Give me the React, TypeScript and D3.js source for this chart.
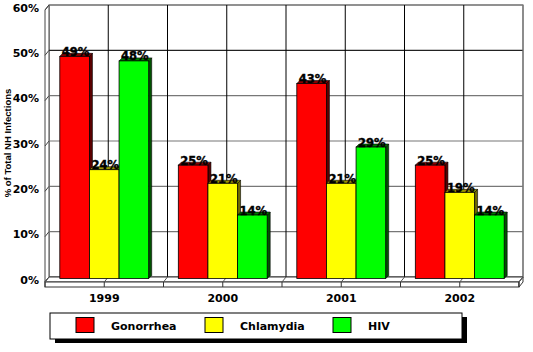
import React from 'react';
import * as d3 from 'd3';

const years = ['1999', '2000', '2001', '2002'];
const seriesNames = ['Gonorrhea', 'Chlamydia', 'HIV'];
const gonorrhea = [49, 25, 43, 25];
const chlamydia = [24, 21, 21, 19];
const hiv = [48, 14, 29, 14];
const yTicks = [0, 10, 20, 30, 40, 50, 60];

const fills = ['#ff0000', '#ffff00', '#00ff00'];
const sides = ['#5a0000', '#6e6a00', '#005200'];
const tops = ['#8a0000', '#9a9400', '#007800'];

const W = 533;
const H = 352;
// depth of the wall/floor and of the bars
const DX = 4, DY = -5;
const BDX = 3, BDY = -3;

const App = () => {
  const values = [gonorrhea, chlamydia, hiv];

  const x = d3.scaleBand<string>().domain(years).range([45, 519]).paddingInner(0).paddingOuter(0);
  const sub = d3.scaleBand<string>().domain(seriesNames).range([0, x.bandwidth()]).paddingInner(0).paddingOuter(0.5);
  const yWall = d3.scaleLinear().domain([0, 60]).range([277, 5]);
  const yBar = d3.scaleLinear().domain([0, 60]).range([278.5, 6.5]);

  const bw = x.bandwidth();
  const halfSteps = d3.range(0, years.length * 2 + 1).map(i => 45 + (i * bw) / 2);

  const font = '"DejaVu Sans", Verdana, sans-serif';

  return (
    <svg width={W} height={H} style={{ position: 'absolute', left: 0, top: 0, background: '#fff' }}>
      {/* back wall */}
      <rect x={49} y={5} width={474} height={272} fill="#fff" stroke="#777" strokeWidth={1.2} />
      {/* left side wall */}
      <polygon points={`45,${yWall(60) - DY} 49,${yWall(60)} 49,${yWall(0)} 45,${yWall(0) - DY}`} fill="#fff" stroke="#444" strokeWidth={1} />

      {yTicks.map(t => (
        <g key={t}>
          <line x1={49} x2={523} y1={yWall(t)} y2={yWall(t)} stroke={t === 50 ? '#222' : '#777'} strokeWidth={1.2} />
          <line x1={45} x2={49} y1={yWall(t) - DY} y2={yWall(t)} stroke="#444" />
          <text x={39} y={yWall(t) - DY / 2 + 4} textAnchor="end" fontFamily={font} fontWeight="bold" fontSize={11}>
            {t}%
          </text>
        </g>
      ))}

      {halfSteps.slice(1, -1).map((hx, i) => (
        <line key={i} x1={hx + DX} x2={hx + DX} y1={yWall(60)} y2={yWall(0)} stroke="#000" strokeWidth={1} />
      ))}
      <line x1={523} x2={523} y1={yWall(60)} y2={yWall(0)} stroke="#777" strokeWidth={1.2} />

      {/* floor */}
      <polygon points={`45,282 49,277 523,277 519,282`} fill="#fff" stroke="#333" strokeWidth={1} />
      <rect x={45} y={282} width={474} height={5} fill="#fff" stroke="#333" strokeWidth={1} />
      <polygon points={`519,282 523,277 523,282 519,287`} fill="#fff" stroke="#333" strokeWidth={1} />
      {halfSteps.map((hx, i) => (
        <g key={i}>
          <line x1={hx} x2={hx + DX} y1={282} y2={277} stroke="#555" />
          <line x1={hx} x2={hx} y1={282} y2={287} stroke="#333" />
        </g>
      ))}

      {/* bars */}
      {years.map((yr, yi) => (
        <g key={yr}>
          {seriesNames.map((s, si) => {
            const v = values[si][yi];
            const bx = (x(yr) ?? 0) + (sub(s) ?? 0);
            const w = sub.bandwidth();
            const top = yBar(v);
            const base = yBar(0);
            return (
              <g key={s}>
                <polygon
                  points={`${bx + w},${top} ${bx + w + BDX},${top + BDY} ${bx + w + BDX},${base + BDY} ${bx + w},${base}`}
                  fill={sides[si]} stroke="#000" strokeWidth={0.6}
                />
                <polygon
                  points={`${bx},${top} ${bx + BDX},${top + BDY} ${bx + w + BDX},${top + BDY} ${bx + w},${top}`}
                  fill={tops[si]} stroke="#000" strokeWidth={0.6}
                />
                <rect x={bx} y={top} width={w} height={base - top} fill={fills[si]} stroke="#000" strokeWidth={0.8} />
              </g>
            );
          })}
        </g>
      ))}

      {/* value labels */}
      {years.map((yr, yi) =>
        seriesNames.map((s, si) => {
          const v = values[si][yi];
          const cx = (x(yr) ?? 0) + (sub(s) ?? 0) + sub.bandwidth() / 2 + 1;
          return (
            <text key={yr + s} x={cx} y={yBar(v) - 0.5} textAnchor="middle" fontFamily={font} fontWeight="bold"
              fontSize={11.5} stroke="#000" strokeWidth={0.4} fill="#000">
              {v}%
            </text>
          );
        })
      )}

      {/* category labels */}
      {years.map(yr => (
        <text key={yr} x={(x(yr) ?? 0) + bw / 2} y={302} textAnchor="middle" fontFamily={font} fontWeight="bold" fontSize={11}>
          {yr}
        </text>
      ))}

      {/* y title */}
      <text transform="translate(11,143) rotate(-90)" textAnchor="middle" fontFamily='"Liberation Sans", Arial, sans-serif'
        fontWeight="bold" fontSize={9.5}>
        % of Total NH Infections
      </text>

      {/* legend */}
      <rect x={55} y={317} width={412} height={26} fill="#000" />
      <rect x={50} y={313} width={412} height={26} fill="#fff" stroke="#000" strokeWidth={1} />
      {seriesNames.map((s, si) => {
        const lx = [76, 205, 333][si];
        return (
          <g key={s}>
            <rect x={lx} y={317.5} width={18} height={15} fill={fills[si]} stroke="#000" strokeWidth={1} />
            <text x={lx + 35} y={329.5} fontFamily={font} fontWeight="bold" fontSize={11}>
              {s}
            </text>
          </g>
        );
      })}
    </svg>
  );
};

export default App;
